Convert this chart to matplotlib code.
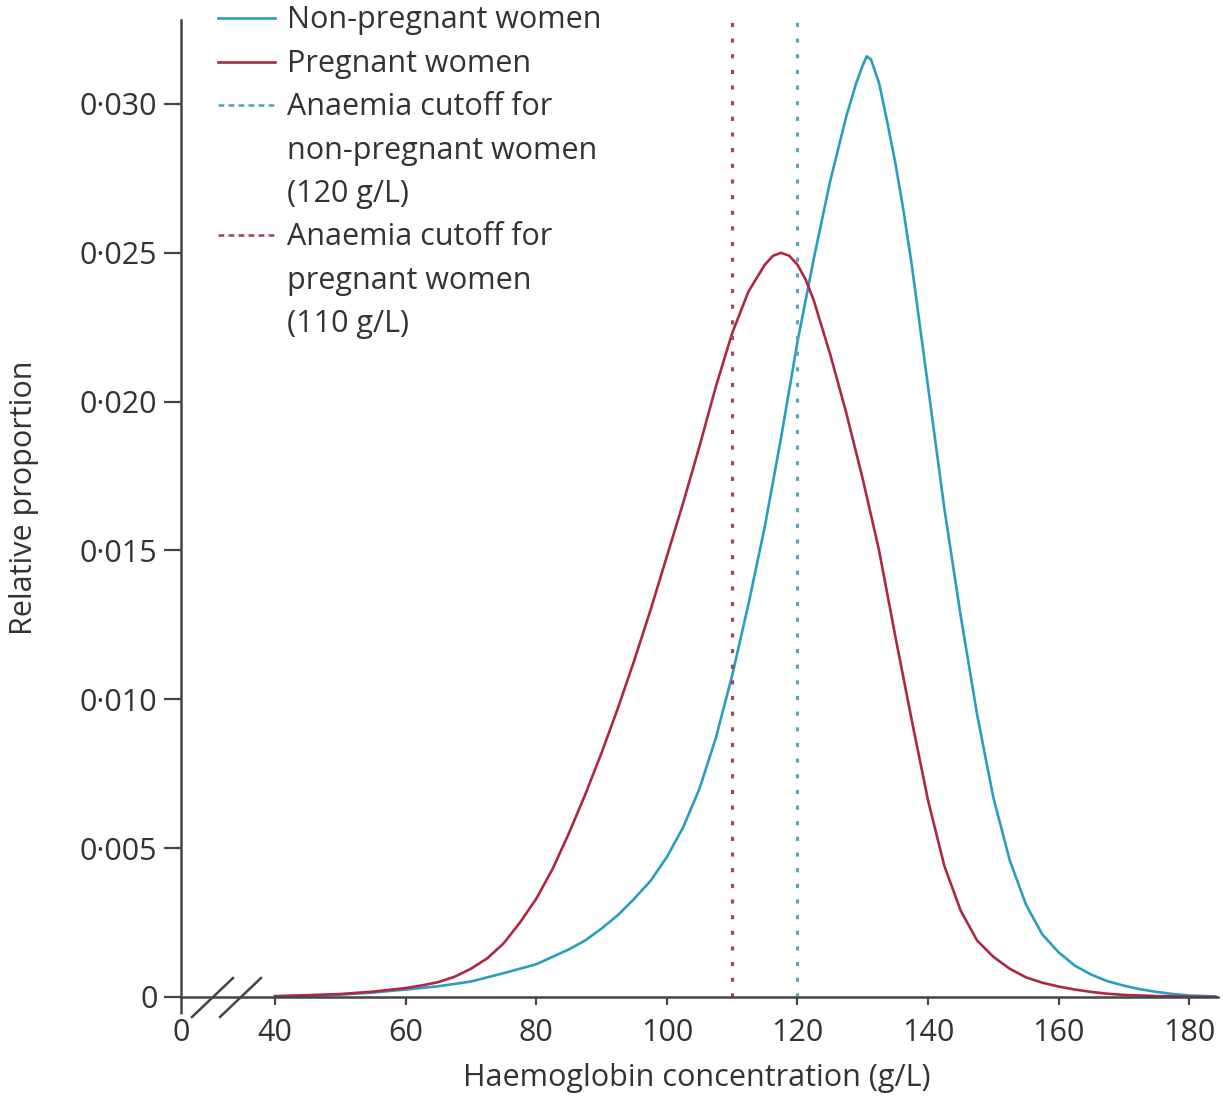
import matplotlib
matplotlib.use('Agg')
import matplotlib.pyplot as plt
from matplotlib.lines import Line2D

# ---------------- data ----------------
hb_nonpreg = [40, 45, 50, 55, 60, 65, 70, 75, 80, 85, 87.5, 90, 92.5, 95, 97.5, 100,
              102.5, 105, 107.5, 110, 112.5, 115, 117.5, 120, 122.5, 125, 127.5, 129,
              130, 130.6, 131.25, 132.5, 133.75, 135, 136.25, 137.5, 140, 142.5, 145,
              147.5, 150, 152.5, 155, 157.5, 160, 162.5, 165, 167.5, 170, 172.5, 175,
              177.5, 180, 184]
rel_nonpreg = [0.00002, 0.00004, 0.00008, 0.00015, 0.00025, 0.00036, 0.00052, 0.0008,
               0.0011, 0.0016, 0.0019, 0.0023, 0.00275, 0.0033, 0.0039, 0.0047,
               0.0057, 0.0070, 0.0087, 0.0108, 0.0132, 0.0158, 0.0188, 0.0220, 0.0248,
               0.0274, 0.0296, 0.0307, 0.0313, 0.0316, 0.0315, 0.0307, 0.0294, 0.0280,
               0.0264, 0.0246, 0.0205, 0.0164, 0.0128, 0.0095, 0.0067, 0.0046, 0.0031,
               0.0021, 0.0015, 0.00105, 0.00075, 0.00053, 0.00038, 0.00026, 0.00017,
               0.0001, 0.00005, 0.00002]

hb_preg = [40, 45, 50, 55, 60, 62.5, 65, 67.5, 70, 72.5, 75, 77.5, 80, 82.5, 85, 87.5,
           90, 92.5, 95, 97.5, 100, 102.5, 105, 107.5, 110, 112.5, 115, 116.25, 117.5,
           118.75, 120, 121.25, 122.5, 125, 127.5, 130, 132.5, 135, 137.5, 140, 142.5,
           145, 147.5, 150, 152.5, 155, 157.5, 160, 162.5, 165, 167.5, 170, 175, 180, 184]
rel_preg = [0.00003, 0.00006, 0.0001, 0.00018, 0.0003, 0.00039, 0.0005, 0.00068, 0.00095,
            0.0013, 0.0018, 0.0025, 0.0033, 0.0043, 0.0055, 0.0068, 0.0082, 0.0097,
            0.0113, 0.0130, 0.0148, 0.0166, 0.0185, 0.0205, 0.0223, 0.0237, 0.0246,
            0.0249, 0.0250, 0.0249, 0.0246, 0.0241, 0.0234, 0.0216, 0.0196, 0.0174,
            0.0150, 0.0121, 0.0093, 0.0066, 0.0044, 0.0029, 0.0019, 0.00135, 0.00095,
            0.00066, 0.00048, 0.00035, 0.00025, 0.00017, 0.00011, 0.00007, 0.00003,
            0.00001, 0.0]

cutoff_nonpreg = 120
cutoff_preg = 110

x_ticks = [40, 60, 80, 100, 120, 140, 160, 180]
x_tick_labels = ['40', '60', '80', '100', '120', '140', '160', '180']
y_ticks = [0, 0.005, 0.010, 0.015, 0.020, 0.025, 0.030]
y_tick_labels = ['0', '0·005', '0·010', '0·015', '0·020', '0·025', '0·030']

legend_labels = ['Non-pregnant women', 'Pregnant women',
                 'Anaemia cutoff for\nnon-pregnant women\n(120 g/L)',
                 'Anaemia cutoff for\npregnant women\n(110 g/L)']

# ---------------- style ----------------
W, H, DPI = 1223, 1097, 100
BLUE = '#2a9ec0'
RED = '#ad2840'
BLUE_CUT = '#5aa6bb'
RED_CUT = '#a04a62'
AXC = '#454545'
TXT = '#333333'
FS = 22

plt.rcParams['font.family'] = ['Open Sans', 'DejaVu Sans']

fig = plt.figure(figsize=(W / DPI, H / DPI), dpi=DPI)
L, R, T, B = 181, 1218, 20, 997
ax = fig.add_axes([L / W, 1 - B / H, (R - L) / W, (B - T) / H])

ax.plot(hb_nonpreg, rel_nonpreg, color=BLUE, lw=1.9, solid_joinstyle='round')
ax.plot(hb_preg, rel_preg, color=RED, lw=1.9, solid_joinstyle='round')
ax.axvline(cutoff_nonpreg, color=BLUE_CUT, lw=2.3, linestyle=(0, (1.3, 3.6)))
ax.axvline(cutoff_preg, color=RED_CUT, lw=2.3, linestyle=(0, (1.3, 3.6)))

x_left = 25.6
ax.set_xlim(x_left, 184.4)
ax.set_ylim(0, 0.03282)

for s in ['top', 'right']:
    ax.spines[s].set_visible(False)
for s in ['left', 'bottom']:
    ax.spines[s].set_color(AXC)
    ax.spines[s].set_linewidth(1.8)

ax.set_xticks(x_ticks)
ax.set_xticklabels(x_tick_labels)
ax.set_xticks([x_left], minor=True)
ax.set_xticklabels(['0'], minor=True)
ax.set_yticks(y_ticks)
ax.set_yticklabels(y_tick_labels)

ax.tick_params(axis='x', which='major', direction='out', length=6, width=1.6,
               color=AXC, labelsize=FS, labelcolor=TXT, pad=9)
ax.tick_params(axis='x', which='minor', direction='out', length=12, width=1.8,
               color=AXC, labelsize=FS, labelcolor=TXT, pad=3)
ax.tick_params(axis='y', which='major', direction='out', length=12, width=1.6,
               color=AXC, labelsize=FS, labelcolor=TXT, pad=5)

# axis break marks
def fx(px):
    return (px - L) / (R - L)

def fy(py):
    return (B - py) / (B - T)

for x0, x1 in [(192, 233), (220, 261)]:
    ax.plot([fx(x0), fx(x1)], [fy(1017), fy(978)], transform=ax.transAxes,
            color=AXC, lw=1.8, clip_on=False)

# axis labels
fig.text(697 / W, 1 - 1078 / H, 'Haemoglobin concentration (g/L)', ha='center',
         va='center', fontsize=FS, color=TXT)
fig.text(24 / W, 1 - 498 / H, 'Relative proportion', ha='center', va='center',
         rotation=90, fontsize=FS, color=TXT)

# legend (manual, handle aligned with first line of each entry)
row_h = 43.4
base0 = 28.3
handles = [(BLUE, '-'), (RED, '-'), (BLUE_CUT, (0, (2.2, 1.6))), (RED_CUT, (0, (2.2, 1.6)))]
row = 0
for (col, ls), lab in zip(handles, legend_labels):
    ypx = base0 + row * row_h - 10
    fig.add_artist(Line2D([218 / W, 275 / W], [1 - ypx / H, 1 - ypx / H],
                          transform=fig.transFigure, color=col, lw=1.9, linestyle=ls))
    for line in lab.split('\n'):
        fig.text(287 / W, 1 - (base0 + row * row_h) / H, line, ha='left',
                 va='baseline', fontsize=FS, color=TXT)
        row += 1

fig.savefig('out.png', dpi=DPI, facecolor='white')
